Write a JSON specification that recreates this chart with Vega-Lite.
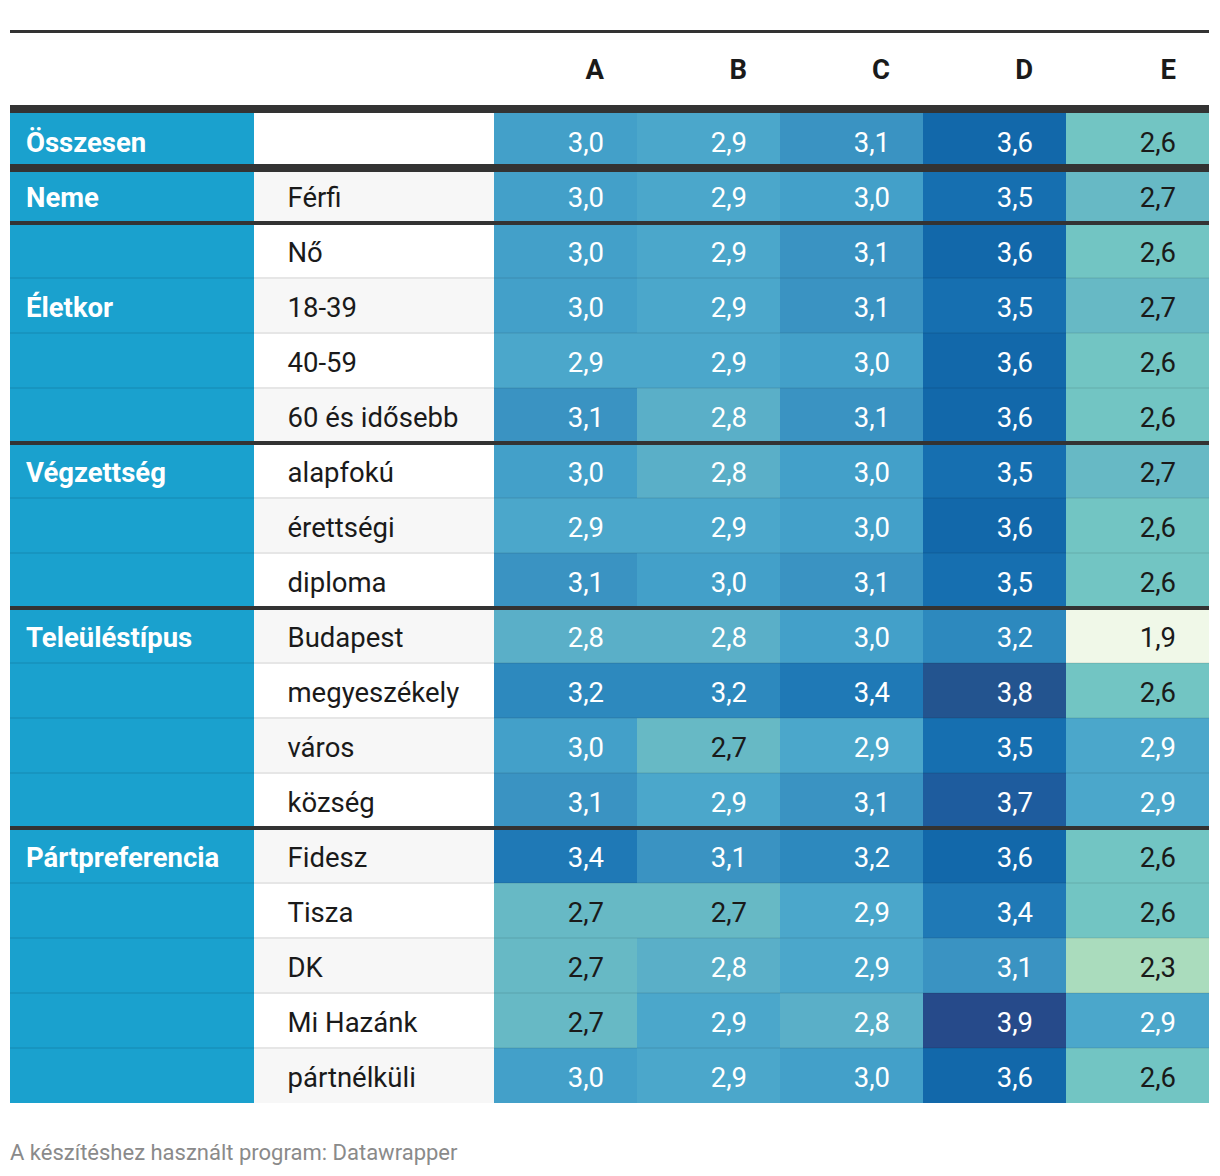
{
  "$schema": "https://vega.github.io/schema/vega-lite/v6.json",
  "background": "#ffffff",
  "padding": {"left": 6, "right": 2, "top": 25, "bottom": 10},
  "config": {
    "locale": {"number": {"decimal": ",", "thousands": " ", "grouping": [3], "currency": ["", " Ft"]}},
    "font": "Roboto",
    "view": {"stroke": null}
  },
  "title": {"text": "A készítéshez használt program: Datawrapper", "orient": "bottom", "anchor": "start", "fontSize": 22, "fontWeight": "normal", "color": "#8a8a8a", "font": "Roboto", "offset": 40, "dx": 4},
  "datasets": {
    "tabla": [
      {"sor": "Összesen", "csoport": "Összesen", "kategoria": "", "A": 3.0, "B": 2.9, "C": 3.1, "D": 3.6, "E": 2.6},
      {"sor": "Férfi", "csoport": "Neme", "kategoria": "Férfi", "A": 3.0, "B": 2.9, "C": 3.0, "D": 3.5, "E": 2.7},
      {"sor": "Nő", "csoport": "", "kategoria": "Nő", "A": 3.0, "B": 2.9, "C": 3.1, "D": 3.6, "E": 2.6},
      {"sor": "18-39", "csoport": "Életkor", "kategoria": "18-39", "A": 3.0, "B": 2.9, "C": 3.1, "D": 3.5, "E": 2.7},
      {"sor": "40-59", "csoport": "", "kategoria": "40-59", "A": 2.9, "B": 2.9, "C": 3.0, "D": 3.6, "E": 2.6},
      {"sor": "60 és idősebb", "csoport": "", "kategoria": "60 és idősebb", "A": 3.1, "B": 2.8, "C": 3.1, "D": 3.6, "E": 2.6},
      {"sor": "alapfokú", "csoport": "Végzettség", "kategoria": "alapfokú", "A": 3.0, "B": 2.8, "C": 3.0, "D": 3.5, "E": 2.7},
      {"sor": "érettségi", "csoport": "", "kategoria": "érettségi", "A": 2.9, "B": 2.9, "C": 3.0, "D": 3.6, "E": 2.6},
      {"sor": "diploma", "csoport": "", "kategoria": "diploma", "A": 3.1, "B": 3.0, "C": 3.1, "D": 3.5, "E": 2.6},
      {"sor": "Budapest", "csoport": "Teleüléstípus", "kategoria": "Budapest", "A": 2.8, "B": 2.8, "C": 3.0, "D": 3.2, "E": 1.9},
      {"sor": "megyeszékely", "csoport": "", "kategoria": "megyeszékely", "A": 3.2, "B": 3.2, "C": 3.4, "D": 3.8, "E": 2.6},
      {"sor": "város", "csoport": "", "kategoria": "város", "A": 3.0, "B": 2.7, "C": 2.9, "D": 3.5, "E": 2.9},
      {"sor": "község", "csoport": "", "kategoria": "község", "A": 3.1, "B": 2.9, "C": 3.1, "D": 3.7, "E": 2.9},
      {"sor": "Fidesz", "csoport": "Pártpreferencia", "kategoria": "Fidesz", "A": 3.4, "B": 3.1, "C": 3.2, "D": 3.6, "E": 2.6},
      {"sor": "Tisza", "csoport": "", "kategoria": "Tisza", "A": 2.7, "B": 2.7, "C": 2.9, "D": 3.4, "E": 2.6},
      {"sor": "DK", "csoport": "", "kategoria": "DK", "A": 2.7, "B": 2.8, "C": 2.9, "D": 3.1, "E": 2.3},
      {"sor": "Mi Hazánk", "csoport": "", "kategoria": "Mi Hazánk", "A": 2.7, "B": 2.9, "C": 2.8, "D": 3.9, "E": 2.9},
      {"sor": "pártnélküli", "csoport": "", "kategoria": "pártnélküli", "A": 3.0, "B": 2.9, "C": 3.0, "D": 3.6, "E": 2.6}
    ]
  },
  "bounds": "flush",
  "spacing": 80,
  "vconcat": [
    {
      "width": 1199,
      "height": 3,
      "view": {"fill": "#333333", "stroke": null},
      "data": {"values": [{}]},
      "mark": {"type": "text"},
      "encoding": {"text": {"value": ""}}
    },
    {
      "bounds": "flush",
      "spacing": 0,
      "hconcat": [
        {
          "width": 244,
          "height": 990,
          "data": {"name": "tabla"},
          "encoding": {
            "y": {"field": "sor", "type": "nominal", "sort": null, "axis": null,
              "scale": {"domain": ["Összesen", "Férfi", "Nő", "18-39", "40-59", "60 és idősebb", "alapfokú", "érettségi", "diploma", "Budapest", "megyeszékely", "város", "község", "Fidesz", "Tisza", "DK", "Mi Hazánk", "pártnélküli"], "paddingInner": 0, "paddingOuter": 0}}
          },
          "layer": [
            {
              "mark": {"type": "rect", "color": "#1aa1ce"},
              "encoding": {"x": {"datum": "csoport", "type": "nominal", "axis": null, "scale": {"paddingInner": 0, "paddingOuter": 0}}}
            },
            {
              "transform": [{"filter": "datum.sor !== 'Összesen'"}],
              "mark": {"type": "rule", "color": "#1795c0", "strokeWidth": 2},
              "encoding": {"y": {"field": "sor", "type": "nominal", "bandPosition": 0}}
            },
            {
              "transform": [{"filter": "datum.sor === 'Összesen'"}],
              "mark": {"type": "rule", "color": "#333333", "strokeWidth": 8, "yOffset": -4},
              "encoding": {"y": {"field": "sor", "type": "nominal", "bandPosition": 0}}
            },
            {
              "transform": [{"filter": "datum.sor === 'Férfi'"}],
              "mark": {"type": "rule", "color": "#333333", "strokeWidth": 8},
              "encoding": {"y": {"field": "sor", "type": "nominal", "bandPosition": 0}}
            },
            {
              "transform": [{"filter": "indexof(['Nő', 'alapfokú', 'Budapest', 'Fidesz'], datum.sor) >= 0"}],
              "mark": {"type": "rule", "color": "#333333", "strokeWidth": 4},
              "encoding": {"y": {"field": "sor", "type": "nominal", "bandPosition": 0}}
            },
            {
              "mark": {"type": "text", "align": "left", "baseline": "middle", "dx": 16, "dy": 3, "font": "Roboto", "fontWeight": "bold", "fontSize": 27.5, "color": "#ffffff"},
              "encoding": {
                "x": {"datum": "csoport", "type": "nominal", "bandPosition": 0},
                "text": {"field": "csoport"}
              }
            }
          ]
        },
        {
          "width": 240,
          "height": 990,
          "data": {"name": "tabla"},
          "encoding": {
            "y": {"field": "sor", "type": "nominal", "sort": null, "axis": null,
              "scale": {"domain": ["Összesen", "Férfi", "Nő", "18-39", "40-59", "60 és idősebb", "alapfokú", "érettségi", "diploma", "Budapest", "megyeszékely", "város", "község", "Fidesz", "Tisza", "DK", "Mi Hazánk", "pártnélküli"], "paddingInner": 0, "paddingOuter": 0}}
          },
          "layer": [
            {
              "transform": [{"window": [{"op": "row_number", "as": "i"}]}],
              "mark": {"type": "rect"},
              "encoding": {
                "x": {"datum": "kategoria", "type": "nominal", "axis": null, "scale": {"paddingInner": 0, "paddingOuter": 0}},
                "color": {"condition": {"test": "datum.i % 2 == 0", "value": "#f7f7f7"}, "value": "#ffffff"}
              }
            },
            {
              "transform": [{"filter": "datum.sor !== 'Összesen'"}],
              "mark": {"type": "rule", "color": "#e6e6e6", "strokeWidth": 2},
              "encoding": {"y": {"field": "sor", "type": "nominal", "bandPosition": 0}}
            },
            {
              "transform": [{"filter": "datum.sor === 'Összesen'"}],
              "mark": {"type": "rule", "color": "#333333", "strokeWidth": 8, "yOffset": -4},
              "encoding": {"y": {"field": "sor", "type": "nominal", "bandPosition": 0}}
            },
            {
              "transform": [{"filter": "datum.sor === 'Férfi'"}],
              "mark": {"type": "rule", "color": "#333333", "strokeWidth": 8},
              "encoding": {"y": {"field": "sor", "type": "nominal", "bandPosition": 0}}
            },
            {
              "transform": [{"filter": "indexof(['Nő', 'alapfokú', 'Budapest', 'Fidesz'], datum.sor) >= 0"}],
              "mark": {"type": "rule", "color": "#333333", "strokeWidth": 4},
              "encoding": {"y": {"field": "sor", "type": "nominal", "bandPosition": 0}}
            },
            {
              "mark": {"type": "text", "align": "left", "baseline": "middle", "dx": 33.5, "dy": 3, "font": "Roboto", "fontSize": 27.5, "color": "#1a1a1a"},
              "encoding": {
                "x": {"datum": "kategoria", "type": "nominal", "bandPosition": 0},
                "text": {"field": "kategoria"}
              }
            }
          ]
        },
        {
          "width": 715,
          "height": 990,
          "data": {"name": "tabla"},
          "encoding": {
            "y": {"field": "sor", "type": "nominal", "sort": null, "axis": null,
              "scale": {"domain": ["Összesen", "Férfi", "Nő", "18-39", "40-59", "60 és idősebb", "alapfokú", "érettségi", "diploma", "Budapest", "megyeszékely", "város", "község", "Fidesz", "Tisza", "DK", "Mi Hazánk", "pártnélküli"], "paddingInner": 0, "paddingOuter": 0}}
          },
          "layer": [
            {
              "transform": [{"fold": ["A", "B", "C", "D", "E"], "as": ["oszlop", "ertek"]}],
              "mark": {"type": "rect"},
              "encoding": {
                "x": {"field": "oszlop", "type": "nominal",
                  "scale": {"domain": ["A", "B", "C", "D", "E"], "paddingInner": 0, "paddingOuter": 0},
                  "axis": {"orient": "top", "title": null, "domain": false, "ticks": false, "tickSize": 0, "labelAngle": 0, "labelAlign": "right", "labelBaseline": "alphabetic", "labelOffset": 38.5, "labelPadding": 35, "labelFont": "Roboto", "labelFontSize": 27.5, "labelFontWeight": "bold", "labelColor": "#1a1a1a"}},
                "color": {"field": "ertek", "type": "quantitative", "legend": null,
                  "scale": {"domain": [1.9, 2.3, 2.6, 2.7, 2.8, 2.9, 3.0, 3.1, 3.2, 3.4, 3.5, 3.6, 3.7, 3.8, 3.9],
                    "range": ["#f0f8e8", "#aadcbd", "#72c5c3", "#67b9c5", "#5aafc8", "#4ba7cb", "#43a0c9", "#3a93c2", "#2d89be", "#1f79b6", "#166fb0", "#1268aa", "#1e5c9e", "#23548f", "#264a8a"]}}
              }
            },
            {
              "transform": [{"filter": "datum.sor !== 'Összesen'"}],
              "mark": {"type": "rule", "color": "#000000", "opacity": 0.06, "strokeWidth": 2},
              "encoding": {"y": {"field": "sor", "type": "nominal", "bandPosition": 0}}
            },
            {
              "transform": [{"filter": "datum.sor === 'Összesen'"}],
              "mark": {"type": "rule", "color": "#333333", "strokeWidth": 8, "yOffset": -4},
              "encoding": {"y": {"field": "sor", "type": "nominal", "bandPosition": 0}}
            },
            {
              "transform": [{"filter": "datum.sor === 'Férfi'"}],
              "mark": {"type": "rule", "color": "#333333", "strokeWidth": 8},
              "encoding": {"y": {"field": "sor", "type": "nominal", "bandPosition": 0}}
            },
            {
              "transform": [{"filter": "indexof(['Nő', 'alapfokú', 'Budapest', 'Fidesz'], datum.sor) >= 0"}],
              "mark": {"type": "rule", "color": "#333333", "strokeWidth": 4},
              "encoding": {"y": {"field": "sor", "type": "nominal", "bandPosition": 0}}
            },
            {
              "transform": [{"fold": ["A", "B", "C", "D", "E"], "as": ["oszlop", "ertek"]}],
              "mark": {"type": "text", "align": "right", "baseline": "middle", "dx": -33, "dy": 3, "font": "Roboto", "fontSize": 27.5},
              "encoding": {
                "x": {"field": "oszlop", "type": "nominal", "bandPosition": 1},
                "text": {"field": "ertek", "type": "quantitative", "format": ".1f"},
                "color": {"condition": {"test": "datum.ertek >= 2.75", "value": "#ffffff"}, "value": "#1a1a1a"}
              }
            }
          ]
        }
      ]
    }
  ]
}
